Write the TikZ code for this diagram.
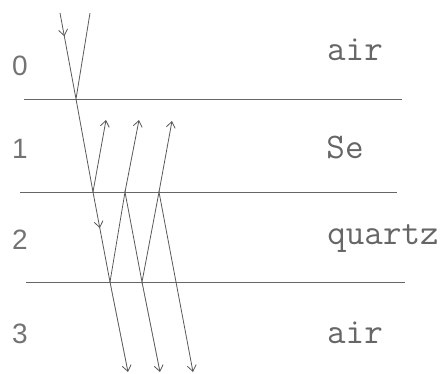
\documentclass[tikz,border=0pt]{standalone}
\usepackage{fontspec}
\setsansfont{Liberation Sans}
\usetikzlibrary{arrows.meta, positioning, calc}

\begin{document}
\begin{tikzpicture}[x=1pt,y=-1pt,
    ray/.style={black!65,line width=0.8pt},
    tip/.style={ray,-{Straight Barb[length=6pt,width=9pt]}},
    layer/.style={black!60,line width=0.9pt},
    medium/.style={font=\fontsize{36}{36}\ttfamily,text=black!60},
    index/.style={font=\fontsize{28}{28}\sffamily\selectfont,text=black!55}]
  \useasboundingbox (0,0) rectangle (444,373);

  % Interfaces
  \draw[layer] (24,99) -- (402,99);
  \draw[layer] (20,192) -- (397,192);
  \draw[layer] (26,282) -- (405,282);

  % Layer indices
  \node[index] (n0) at (20,66) {0};
  \node[index] (n1) at (20,149) {1};
  \node[index] (n2) at (20,240) {2};
  \node[index] (n3) at (20,334) {3};

  % Media
  \node[medium] (m0) at (355,50) {air};
  \node[medium] (m1) at (345,147) {Se};
  \node[medium] (m2) at (383,239) {quartz};
  \node[medium] (m3) at (355,333) {air};

  % Hit points on the interfaces
  \coordinate (A) at (76,99);
  \coordinate (B1) at (93,192);
  \coordinate (B2) at (125,192);
  \coordinate (B3) at (159,192);
  \coordinate (C1) at (110,282);
  \coordinate (C2) at (142,282);
  \coordinate (C3) at (176,282);

  % Free ends
  \coordinate (in) at (60,13);
  \coordinate (refl) at (90,13);
  \coordinate (U1) at (106,120);
  \coordinate (U2) at (139,120);
  \coordinate (U3) at (172,121);
  \coordinate (D1) at (128,372);
  \coordinate (D2) at (160,372);
  \coordinate (D3) at (193,372);

  % Incident and reflected beam
  \draw[tip] (in) -- ($(in)!0.27!(A)$);
  \draw[ray] ($(in)!0.25!(A)$) -- (A) -- (refl);

  % Through Se and quartz
  \draw[ray] (A) -- (B1);
  \draw[tip] (B1) -- ($(B1)!0.4!(C1)$);
  \draw[ray] ($(B1)!0.38!(C1)$) -- (C1);

  % Zig-zag inside the quartz
  \draw[ray] (C1) -- (B2) -- (C2) -- (B3) -- (C3);

  % Beams back up into Se
  \draw[tip] (B1) -- (U1);
  \draw[tip] (B2) -- (U2);
  \draw[tip] (B3) -- (U3);

  % Beams out into the air below
  \draw[tip] (C1) -- (D1);
  \draw[tip] (C2) -- (D2);
  \draw[tip] (C3) -- (D3);
\end{tikzpicture}
\end{document}
